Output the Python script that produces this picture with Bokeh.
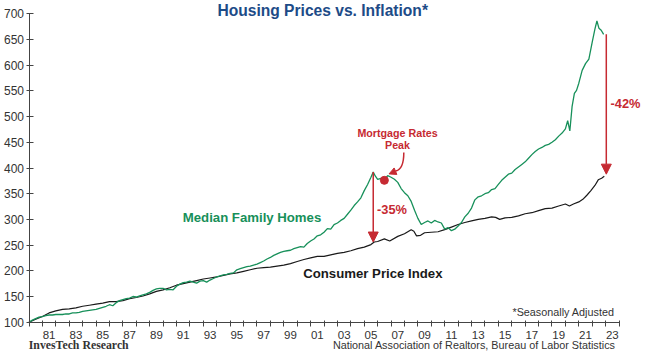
from bokeh.plotting import figure
from bokeh.models import (Range1d, FixedTicker, Label, Arrow, NormalHead)
from bokeh.embed import file_html
from bokeh.resources import INLINE

# ---------------- data (index, 1980 = 100) ----------------
home_years = [1980.00, 1980.25, 1980.50, 1980.75, 1981.00, 1981.25, 1981.50, 1981.75,
              1982.00, 1982.25, 1982.50, 1982.75, 1983.00, 1983.25, 1983.50, 1983.75,
              1984.00, 1984.25, 1984.50, 1984.75, 1985.00, 1985.25, 1985.50, 1985.75,
              1986.00, 1986.25, 1986.50, 1986.75, 1987.00, 1987.25, 1987.50, 1987.75,
              1988.00, 1988.25, 1988.50, 1988.75, 1989.00, 1989.25, 1989.50, 1989.75,
              1990.00, 1990.25, 1990.50, 1990.75, 1991.00, 1991.25, 1991.50, 1991.75,
              1992.00, 1992.25, 1992.50, 1992.75, 1993.00, 1993.25, 1993.50, 1993.75,
              1994.00, 1994.25, 1994.50, 1994.75, 1995.00, 1995.25, 1995.50, 1995.75,
              1996.00, 1996.25, 1996.50, 1996.75, 1997.00, 1997.25, 1997.50, 1997.75,
              1998.00, 1998.25, 1998.50, 1998.75, 1999.00, 1999.25, 1999.50, 1999.75,
              2000.00, 2000.25, 2000.50, 2000.75, 2001.00, 2001.25, 2001.50, 2001.75,
              2002.00, 2002.25, 2002.50, 2002.75, 2003.00, 2003.25, 2003.50, 2003.75,
              2004.00, 2004.25, 2004.50, 2004.75, 2005.00, 2005.25, 2005.50, 2005.67,
              2005.83, 2006.00, 2006.25, 2006.50, 2006.75, 2007.00, 2007.25, 2007.50,
              2007.75, 2008.00, 2008.25, 2008.50, 2008.75, 2009.00, 2009.25, 2009.50,
              2009.75, 2010.00, 2010.25, 2010.50, 2010.75, 2011.00, 2011.25, 2011.50,
              2011.75, 2012.00, 2012.25, 2012.50, 2012.75, 2013.00, 2013.25, 2013.50,
              2013.75, 2014.00, 2014.25, 2014.50, 2014.75, 2015.00, 2015.25, 2015.50,
              2015.75, 2016.00, 2016.25, 2016.50, 2016.75, 2017.00, 2017.25, 2017.50,
              2017.75, 2018.00, 2018.25, 2018.50, 2018.75, 2019.00, 2019.25, 2019.50,
              2019.75, 2020.00, 2020.17, 2020.33, 2020.50, 2020.67, 2020.83, 2021.00,
              2021.25, 2021.50, 2021.75, 2022.00, 2022.20, 2022.35, 2022.50, 2022.67,
              2022.85]
home_index = [100, 104, 107, 110, 111, 113, 114, 114,
              115, 115, 115, 116, 116, 118, 118, 119,
              121, 122, 123, 124, 125, 127, 129, 131,
              134, 132, 138, 142, 144, 146, 147, 150,
              149, 151, 153, 155, 158, 162, 165, 166,
              166, 163, 164, 163, 170, 174, 177, 178,
              180, 178, 176, 180, 181, 178, 182, 185,
              188, 190, 192, 193, 195, 196, 202, 204,
              206, 208, 209, 211, 213, 216, 219, 223,
              226, 230, 233, 236, 238, 239, 240, 243,
              245, 247, 246, 253, 258, 262, 268, 270,
              275, 282, 281, 290, 293, 298, 302, 310,
              318, 327, 334, 342, 356, 368, 382, 392,
              384, 378, 380, 378, 385, 382, 378, 372,
              360, 352, 346, 335, 318, 302, 290, 294,
              297, 293, 298, 295, 293, 281, 284, 278,
              281, 287, 294, 305, 312, 322, 338, 344,
              346, 350, 352, 358, 360, 368, 376, 382,
              388, 390, 397, 402, 407, 412, 419, 426,
              432, 437, 440, 444, 446, 450, 455, 462,
              468, 476, 492, 472, 520, 545, 551, 565,
              590, 603, 612, 645, 670, 686, 672, 668,
              660]

cpi_years = [1980.0, 1980.5, 1981.0, 1981.5, 1982.0, 1982.5, 1983.0, 1983.5,
             1984.0, 1984.5, 1985.0, 1985.5, 1986.0, 1986.5, 1987.0, 1987.5,
             1988.0, 1988.5, 1989.0, 1989.5, 1990.0, 1990.5, 1991.0, 1991.5,
             1992.0, 1992.5, 1993.0, 1993.5, 1994.0, 1994.5, 1995.0, 1995.5,
             1996.0, 1996.5, 1997.0, 1997.5, 1998.0, 1998.5, 1999.0, 1999.5,
             2000.0, 2000.5, 2001.0, 2001.5, 2002.0, 2002.5, 2003.0, 2003.5,
             2004.0, 2004.5, 2005.0, 2005.5, 2005.75, 2006.0, 2006.5, 2006.9,
             2007.5, 2008.0, 2008.5, 2008.7, 2008.9, 2009.2, 2009.5, 2010.0,
             2010.5, 2011.0, 2011.5, 2012.0, 2012.5, 2013.0, 2013.5, 2014.0,
             2014.5, 2014.8, 2015.1, 2015.5, 2016.0, 2016.5, 2017.0, 2017.5,
             2018.0, 2018.5, 2019.0, 2019.5, 2020.0, 2020.3, 2020.6, 2021.0,
             2021.3, 2021.6, 2021.9, 2022.2, 2022.45, 2022.7, 2022.9]
cpi_index = [100, 106, 111, 118, 122, 125, 126, 128,
             131, 133, 135, 137, 140, 140, 142, 146,
             148, 151, 155, 160, 163, 167, 172, 175,
             178, 181, 184, 186, 188, 191, 194, 196,
             199, 202, 205, 206, 207, 209, 211, 214,
             218, 222, 225, 228, 228, 231, 234, 236,
             239, 243, 246, 251, 256, 257, 262, 258,
             267, 272, 280, 277, 268, 269, 274, 275,
             276, 280, 285, 290, 294, 297, 300, 302,
             305, 304, 300, 303, 304, 307, 311, 313,
             317, 321, 322, 326, 330, 326, 330, 334,
             339, 347, 356, 366, 377, 380, 384]

x_ticks = list(range(1980, 2025))
label_years = list(range(1981, 2024, 2))
y_ticks = list(range(100, 701, 50))

# ---------------- styling ----------------
GREEN = "#17905a"
RED = "#c62a32"
BLUE = "#1d4b87"
FONT = "Liberation Sans"

# frame covers the whole canvas; axes are pinned inside it at 1980 / 100
PX_PER_YEAR = 13.41
PX_PER_UNIT = 308.4 / 600.0
x0 = 1980 - 28.5 / PX_PER_YEAR
x1 = 1980 + (645 - 28.5) / PX_PER_YEAR
y1 = 700 + 13.3 / PX_PER_UNIT
y0 = 100 - (352 - 321.7) / PX_PER_UNIT

p = figure(width=645, height=352, output_backend="svg", toolbar_location=None,
           x_range=Range1d(x0, x1), y_range=Range1d(y0, y1), min_border=0)
p.outline_line_color = None
p.grid.grid_line_color = None
p.background_fill_color = "white"
p.border_fill_color = "white"

# x axis: tick marks at year boundaries, labels centred on odd years
mid = [y + 0.5 for y in label_years]
p.xaxis.fixed_location = 100
p.xaxis.bounds = (1980, 2024)
p.xaxis.ticker = FixedTicker(ticks=mid, minor_ticks=x_ticks)
p.xaxis.major_label_overrides = {m: f"{int(m) % 100:02d}" for m in mid}
p.xaxis.major_tick_line_color = None
p.xaxis.minor_tick_in = 2
p.xaxis.minor_tick_out = 4
p.xaxis.minor_tick_line_color = "#444444"
p.xaxis.axis_line_color = "#444444"
p.xaxis.major_label_standoff = 3
p.xaxis.major_label_text_font = FONT
p.xaxis.major_label_text_font_size = "11.5px"
p.xaxis.major_label_text_color = "#333333"

p.yaxis.fixed_location = 1980
p.yaxis.bounds = (100, 700)
p.yaxis.ticker = FixedTicker(ticks=y_ticks)
p.yaxis.minor_tick_line_color = None
p.yaxis.major_tick_in = 4
p.yaxis.major_tick_out = 3
p.yaxis.major_tick_line_color = "#444444"
p.yaxis.axis_line_color = "#444444"
p.yaxis.major_label_standoff = 2
p.yaxis.major_label_text_font = FONT
p.yaxis.major_label_text_font_size = "12px"
p.yaxis.major_label_text_color = "#333333"

# ---------------- lines ----------------
p.line(cpi_years, cpi_index, line_color="#1a1a1a", line_width=1.2)
p.line(home_years, home_index, line_color=GREEN, line_width=1.3)

# ---------------- annotations ----------------
# -35% arrow: from housing peak (pre-2008) down to CPI at the same date
pre = [i for i, y in enumerate(home_years) if y < 2008]
pk = max(pre, key=lambda i: home_index[i])
pk_x = home_years[pk]
j = min(range(len(cpi_years)), key=lambda i: abs(cpi_years[i] - pk_x))
p.add_layout(Arrow(end=NormalHead(size=10, fill_color=RED, line_color=RED),
                   x_start=pk_x, y_start=home_index[pk], x_end=pk_x, y_end=cpi_index[j],
                   line_color=RED, line_width=1.5))

# -42% arrow: from latest housing value down to latest CPI
end_x = home_years[-1] + 0.2
p.add_layout(Arrow(end=NormalHead(size=10, fill_color=RED, line_color=RED),
                   x_start=end_x, y_start=home_index[-1], x_end=end_x, y_end=cpi_index[-1] + 4,
                   line_color=RED, line_width=1.5))

# mortgage rates peak dot
k = home_years.index(2006.50)
p.scatter([home_years[k]], [home_index[k] - 2], size=8, fill_color=RED, line_color=RED)

# curved pointer
p.bezier(x0=[2007.95], y0=[430], x1=[2007.35], y1=[394],
         cx0=[2007.95], cy0=[405], cx1=[2007.7], cy1=[396],
         line_color=RED, line_width=1.5)
p.add_layout(Arrow(end=NormalHead(size=7, fill_color=RED, line_color=RED),
                   x_start=2007.35, y_start=394, x_end=2006.85, y_end=388.5,
                   line_color=RED, line_width=1.5))

def lab(x, y, text, color, size, bold=True, align="center", font=FONT, baseline="middle"):
    p.add_layout(Label(x=x, y=y, text=text, text_color=color, text_font=font,
                       text_font_size=size, text_font_style="bold" if bold else "normal",
                       text_align=align, text_baseline=baseline))

lab(2001.9, 706.4, "Housing Prices vs. Inflation*", BLUE, "15.6px")
lab(1996.63, 303.7, "Median Family Homes", GREEN, "13.2px")
lab(2000.45, 194.2, "Consumer Price Index", "#1a1a1a", "13.2px", align="left")
lab(2007.48, 467.7, "Mortgage Rates", RED, "10.7px")
lab(2007.48, 443.8, "Peak", RED, "10.7px")
lab(2007.07, 319, "-35%", RED, "12.8px")
lab(2024.48, 524.9, "-42%", RED, "12.8px")
lab(2023.66, 120.8, "*Seasonally Adjusted", "#333333", "10.8px", bold=False, align="right")
lab(1979.98, 55.5, "InvesTech Research", "#333333", "11.8px", align="left",
    font="Liberation Serif")
lab(2023.74, 55.5, "National Association of Realtors, Bureau of Labor Statistics",
    "#333333", "10.8px", bold=False, align="right")

open("out.html", "w").write(file_html(p, INLINE))
